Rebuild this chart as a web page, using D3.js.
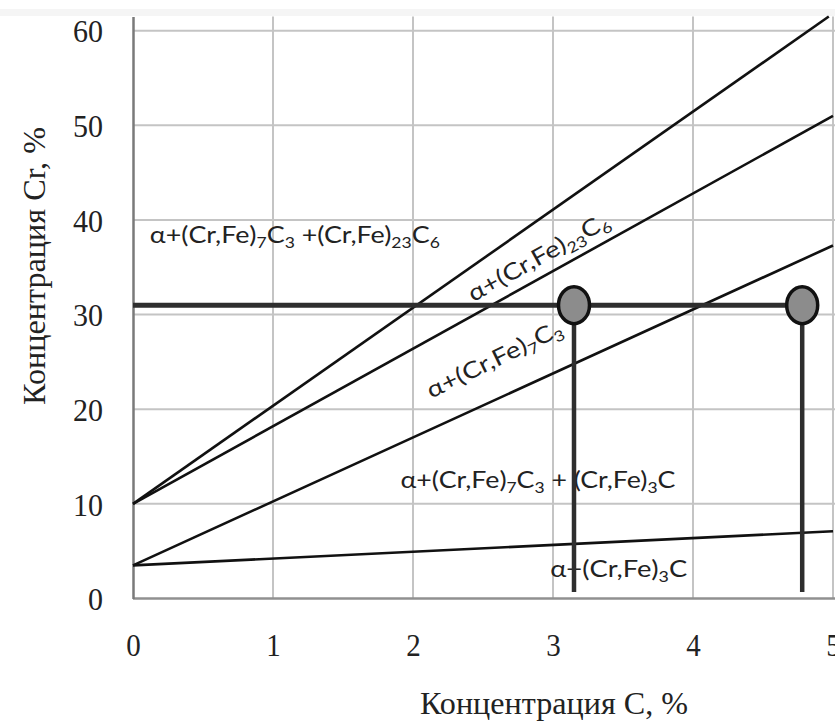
<!DOCTYPE html>
<html><head><meta charset="utf-8">
<script src="https://cdn.jsdelivr.net/npm/d3@7"></script>
<style>body{margin:0;background:#fff}</style>
</head><body><svg id="c" width="835" height="726"></svg>
<script>
// ---- data ----
const xTicks = [0, 1, 2, 3, 4, 5];
const yTicks = [0, 10, 20, 30, 40, 50, 60];
const xDomain = [0, 5];
const yDomain = [0, 61.5];
const boundaryA = [[0, 10], [4.97, 61.5]];
const boundaryB = [[0, 10], [5, 51]];
const boundaryC = [[0, 3.5], [5, 37.3]];
const boundaryD = [[0, 3.5], [5, 7.1]];
const alloyCr = 31;
const alloyC = [3.15, 4.78];
const dropEndCr = 0.7;
const xTitle = "Концентрация C, %";
const yTitle = "Концентрация Cr, %";
const labelTop = [["α+(Cr,Fe)",0],["7",1],["C",0],["3",1],[" +(Cr,Fe)",0],["23",1],["C",0],["6",1]];
const labelM23 = [["α+(Cr,Fe)",0],["23",1],["C",0],["6",1]];
const labelM7 = [["α+(Cr,Fe)",0],["7",1],["C",0],["3",1]];
const labelM7M3 = [["α+(Cr,Fe)",0],["7",1],["C",0],["3",1],[" + (Cr,Fe)",0],["3",1],["C",0]];
const labelM3 = [["α+(Cr,Fe)",0],["3",1],["C",0]];

// ---- drawing ----
const svg = d3.select("#c");
const x = d3.scaleLinear().domain(xDomain).range([133, 833]);
const y = d3.scaleLinear().domain(yDomain).range([598.5, 16.5]);

svg.append("rect").attr("x",0).attr("y",9).attr("width",835).attr("height",7).attr("fill","#f5f5f5");

// grid
svg.append("g").selectAll("line").data(yTicks.filter(d=>d>0)).join("line")
  .attr("x1", x(0)).attr("x2", 835).attr("y1", d=>y(d)).attr("y2", d=>y(d))
  .attr("stroke", "#c4c4c4").attr("stroke-width", 2);
svg.append("g").selectAll("line").data(xTicks.filter(d=>d>0)).join("line")
  .attr("x1", d=>x(d)).attr("x2", d=>x(d)).attr("y1", y(yDomain[1])).attr("y2", y(0))
  .attr("stroke", "#c4c4c4").attr("stroke-width", 2);

// axes
const xAxis = d3.axisBottom(x).tickValues(xTicks).tickSize(0).tickPadding(0).tickFormat(d3.format("d"));
const gx = svg.append("g").attr("transform", `translate(0,${y(0)})`).call(xAxis);
gx.select(".domain").attr("stroke", "#909090").attr("stroke-width", 2.5).attr("d", `M${x(0)},0H835`);
gx.selectAll("text").attr("y", 57.5).attr("dy", null)
  .attr("font-family", "'Liberation Serif', serif").attr("font-size", 32).attr("fill", "#222")
  .attr("textLength", d => String(d).length * 14.5).attr("lengthAdjust", "spacingAndGlyphs");

const yAxis = d3.axisLeft(y).tickValues(yTicks).tickSize(0).tickPadding(30).tickFormat(d3.format("d"));
const gy = svg.append("g").attr("transform", `translate(${x(0)},0)`).call(yAxis);
gy.select(".domain").attr("stroke", "#7a7a7a").attr("stroke-width", 2.5);
gy.selectAll("text").attr("dy", "0.35em")
  .attr("font-family", "'Liberation Serif', serif").attr("font-size", 32).attr("fill", "#222")
  .attr("textLength", d => String(d).length * 15).attr("lengthAdjust", "spacingAndGlyphs");

// region labels
function addLabel(parts, xd, yd, angle, len) {
  const t = svg.append("text")
    .attr("transform", `translate(${x(xd)},${y(yd)}) rotate(${angle})`)
    .attr("font-family", "Lato, 'Open Sans', sans-serif").attr("font-size", 23).attr("fill", "#222")
    .attr("textLength", len).attr("lengthAdjust", "spacingAndGlyphs");
  let shifted = false;
  parts.forEach(([s, sub]) => {
    const ts = t.append("tspan").text(s);
    if (sub && !shifted) { ts.attr("dy", 5); shifted = true; }
    else if (!sub && shifted) { ts.attr("dy", -5); shifted = false; }
    if (sub) ts.attr("font-size", 15);
  });
}
addLabel(labelTop, 0.12, 37.6, 0, 290);
addLabel(labelM23, 2.43, 31.3, -29, 158);
addLabel(labelM7, 2.13, 21.1, -26, 148);
addLabel(labelM7M3, 1.91, 11.7, 0, 275);
addLabel(labelM3, 2.98, 2.27, 0, 137);

// boundary lines
const line = d3.line().x(d=>x(d[0])).y(d=>y(d[1]));
svg.append("g").selectAll("path").data([boundaryA, boundaryB, boundaryC, boundaryD]).join("path")
  .attr("d", line).attr("fill", "none").attr("stroke", "#111").attr("stroke-width", 2.6);

// alloy composition line and drops
svg.append("path").attr("d", line([[0, alloyCr], [alloyC[1], alloyCr]]))
  .attr("stroke", "#2e2e2e").attr("stroke-width", 5).attr("fill", "none");
svg.append("g").selectAll("line").data(alloyC).join("line")
  .attr("x1", d=>x(d)).attr("x2", d=>x(d)).attr("y1", y(alloyCr)).attr("y2", y(dropEndCr))
  .attr("stroke", "#2e2e2e").attr("stroke-width", 4.5);
svg.append("g").selectAll("ellipse").data(alloyC).join("ellipse")
  .attr("cx", d=>x(d)).attr("cy", y(alloyCr)).attr("rx", 15.5).attr("ry", 18.5)
  .attr("fill", "#8c8c8c").attr("stroke", "#111").attr("stroke-width", 3.5);

// titles
svg.append("text").attr("x", 554).attr("y", 714).attr("text-anchor", "middle")
  .attr("font-family", "'Liberation Serif', serif").attr("font-size", 32).attr("fill", "#222")
  .attr("textLength", 268).attr("lengthAdjust", "spacingAndGlyphs").text(xTitle);
svg.append("text").attr("transform", "translate(45,266) rotate(-90)").attr("text-anchor", "middle")
  .attr("font-family", "'Liberation Serif', serif").attr("font-size", 32).attr("fill", "#222")
  .attr("textLength", 278).attr("lengthAdjust", "spacingAndGlyphs").text(yTitle);
</script></body></html>
